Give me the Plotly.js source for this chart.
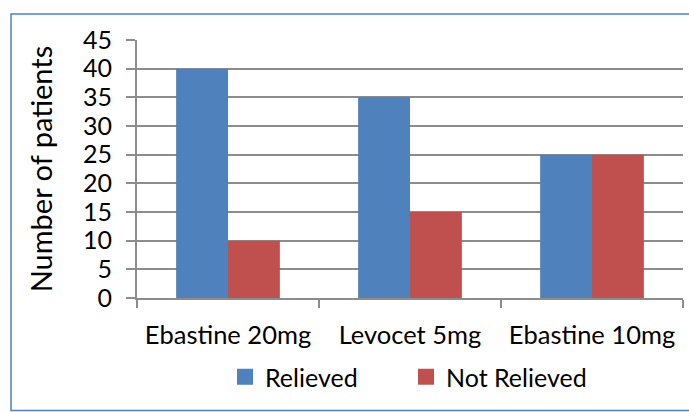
<!DOCTYPE html>
<html>
<head>
<meta charset="utf-8">
<script src="https://cdn.plot.ly/plotly-3.0.1.min.js"></script>
<style>
html,body{margin:0;padding:0;background:#fff;overflow:hidden;}
#chart{width:689px;height:412px;}
</style>
</head>
<body>
<div id="chart"></div>
<script>
const categories = ["Ebastine 20mg", "Levocet 5mg", "Ebastine 10mg"];
const relieved = [40, 35, 25];
const notRelieved = [10, 15, 25];
const seriesNames = ["Relieved", "Not Relieved"];
const colors = ["#4F81BD", "#C0504D"];
const yTicks = [0, 5, 10, 15, 20, 25, 30, 35, 40, 45];

const FONT = "Lato, 'Open Sans', sans-serif";

const traces = [
  {type: "bar", x: categories, y: relieved, name: seriesNames[0], marker: {color: colors[0]}, showlegend: false, hoverinfo: "none"},
  {type: "bar", x: categories, y: notRelieved, name: seriesNames[1], marker: {color: colors[1]}, showlegend: false, hoverinfo: "none"},
  {type: "scatter", mode: "markers", x: [null], y: [null], name: seriesNames[0], marker: {symbol: "square", size: 16, color: colors[0]}, showlegend: true},
  {type: "scatter", mode: "markers", x: [null], y: [null], name: seriesNames[1], marker: {symbol: "square", size: 16, color: colors[1]}, showlegend: true}
];

const L = 137, R = 683, T = 40, B = 298;
const pw = R - L, ph = B - T;

const layout = {
  width: 689, height: 412,
  margin: {l: L, r: 689 - R, t: T, b: 412 - B},
  paper_bgcolor: "#fff", plot_bgcolor: "#fff",
  font: {family: FONT, color: "#000"},
  barmode: "group",
  bargap: 0.43,
  bargroupgap: 0,
  showlegend: true,
  legend: {
    orientation: "h",
    x: (225 - L) / pw, xanchor: "left",
    y: (B - 377) / ph, yanchor: "middle",
    font: {family: FONT, size: 25, color: "#000"},
    entrywidth: 136, entrywidthmode: "pixels",
    bgcolor: "rgba(0,0,0,0)"
  },
  xaxis: {
    type: "category",
    showline: true, linecolor: "#8c8c8c", linewidth: 2,
    ticks: "outside", tickson: "boundaries", ticklen: 8, tickcolor: "#8c8c8c", tickwidth: 2,
    ticklabelstandoff: 13,
    tickfont: {family: FONT, size: 25.5, color: "#000"},
    showgrid: false, fixedrange: true
  },
  yaxis: {
    range: [0, 45],
    tickvals: yTicks,
    ticktext: yTicks.map(String),
    showline: true, linecolor: "#8c8c8c", linewidth: 2,
    ticks: "outside", ticklen: 9, tickcolor: "#8c8c8c", tickwidth: 2,
    ticklabelstandoff: 9,
    showgrid: true, gridcolor: "#8c8c8c", gridwidth: 2,
    zeroline: false,
    tickfont: {family: FONT, size: 25, color: "#000"},
    title: {text: "Number of patients", font: {family: FONT, size: 29, color: "#000"}, standoff: 22},
    fixedrange: true
  },
  shapes: [{
    type: "rect", xref: "paper", yref: "paper",
    x0: (11 - L) / pw, x1: (695 - L) / pw,
    y0: (B - 410.5) / ph, y1: (B - 14) / ph,
    line: {color: "#4F81BD", width: 1.5}, fillcolor: "rgba(0,0,0,0)", layer: "below"
  }]
};

Plotly.newPlot("chart", traces, layout, {displayModeBar: false, staticPlot: true});
</script>
</body>
</html>
